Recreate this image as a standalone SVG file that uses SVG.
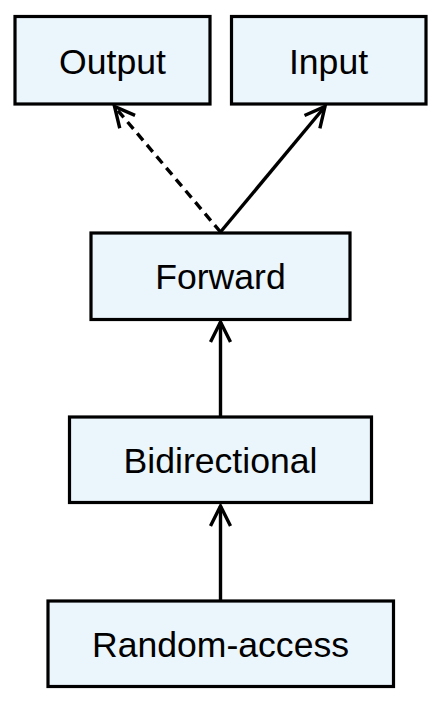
<svg xmlns="http://www.w3.org/2000/svg" width="442" height="702" viewBox="0 0 442 702">
  <style>
    .box { fill: #EAF5FC; stroke: #000; stroke-width: 3.2; }
    .lbl { font-family: "Liberation Sans", Arial, sans-serif; font-size: 35.6px; fill: #000; text-anchor: middle; }
    .edge { stroke: #000; stroke-width: 3.4; fill: none; marker-end: url(#arrow); }
    .dash { stroke-dasharray: 9 6; }
  </style>
  <defs>
    <marker id="arrow" markerUnits="userSpaceOnUse" markerWidth="30" markerHeight="30" viewBox="-25 -15 30 30" refX="0" refY="0" orient="auto">
      <path d="M -20 -10 L 0 0 L -20 10" fill="none" stroke="#000" stroke-width="3.4" stroke-dasharray="none" stroke-linejoin="miter"/>
    </marker>
  </defs>
  <g id="connectors">
    <line class="edge dash" x1="220.5" y1="232" x2="114.5" y2="106.5"/>
    <line class="edge" x1="220.5" y1="232" x2="325" y2="106.5"/>
    <line class="edge" x1="220.5" y1="417" x2="220.5" y2="322"/>
    <line class="edge" x1="220.5" y1="600" x2="220.5" y2="506"/>
  </g>
  <g id="node-output">
    <rect class="box" x="15" y="16.5" width="195" height="87.5"/>
    <text class="lbl" x="112.5" y="73.5">Output</text>
  </g>
  <g id="node-input">
    <rect class="box" x="231.5" y="16.5" width="194.5" height="87.5"/>
    <text class="lbl" x="328.5" y="73.5">Input</text>
  </g>
  <g id="node-forward">
    <rect class="box" x="91" y="233" width="259" height="86.5"/>
    <text class="lbl" x="220.5" y="289">Forward</text>
  </g>
  <g id="node-bidirectional">
    <rect class="box" x="69.5" y="417" width="302" height="85.5"/>
    <text class="lbl" x="220.5" y="473">Bidirectional</text>
  </g>
  <g id="node-random">
    <rect class="box" x="48" y="601" width="345.5" height="85.5"/>
    <text class="lbl" x="220.5" y="656.5">Random-access</text>
  </g>
</svg>
